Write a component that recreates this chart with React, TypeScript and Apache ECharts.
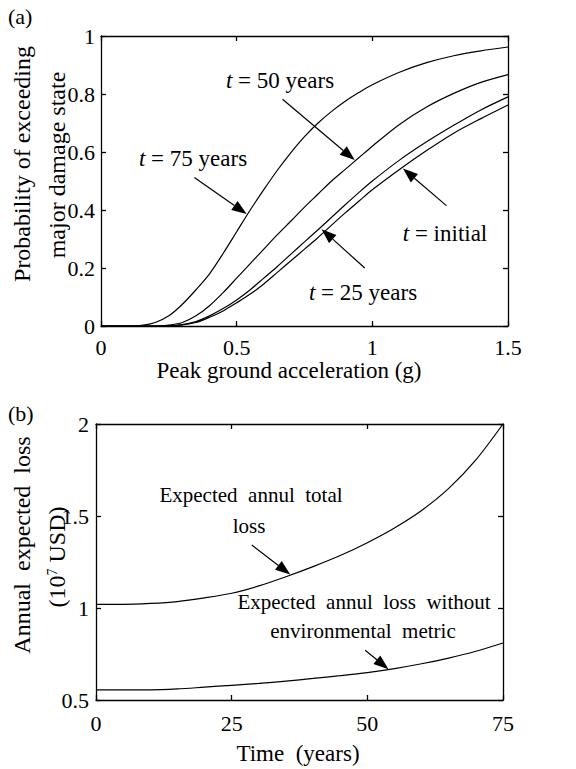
import React, { useEffect, useRef } from "react";
import * as echarts from "echarts";

// ---------- Panel (a): fragility curves ----------
const pga = [0, 0.1, 0.15, 0.2, 0.25, 0.3, 0.35, 0.4, 0.45, 0.5, 0.55, 0.6, 0.65, 0.7, 0.75, 0.8, 0.85, 0.9, 0.95, 1.0, 1.1, 1.2, 1.3, 1.4, 1.5];
const pInitial = [0, 0, 0, 0, 0.001, 0.004, 0.012, 0.03, 0.052, 0.08, 0.11, 0.145, 0.185, 0.225, 0.265, 0.305, 0.348, 0.39, 0.43, 0.47, 0.54, 0.605, 0.665, 0.715, 0.762];
const p25 = [0, 0, 0, 0, 0.001, 0.005, 0.015, 0.035, 0.06, 0.09, 0.125, 0.165, 0.205, 0.248, 0.29, 0.332, 0.375, 0.418, 0.46, 0.5, 0.572, 0.635, 0.692, 0.745, 0.79];
const p50 = [0, 0, 0, 0, 0.003, 0.012, 0.035, 0.07, 0.115, 0.165, 0.215, 0.265, 0.315, 0.362, 0.41, 0.455, 0.5, 0.54, 0.58, 0.62, 0.695, 0.755, 0.802, 0.84, 0.867];
const p75 = [0, 0, 0.002, 0.012, 0.035, 0.075, 0.125, 0.18, 0.25, 0.325, 0.4, 0.47, 0.537, 0.598, 0.653, 0.7, 0.74, 0.775, 0.805, 0.832, 0.875, 0.908, 0.932, 0.949, 0.962];

// arrows: [tailX, tailY, tipX, tipY]
const arrowT75 = [0.344, 0.512, 0.537, 0.386];
const arrowT50 = [0.669, 0.782, 0.935, 0.572];
const arrowT25 = [0.972, 0.2, 0.813, 0.334];
const arrowInitial = [1.273, 0.415, 1.113, 0.543];

// ---------- Panel (b): annual expected loss ----------
const years = [0, 5, 10, 15, 20, 25, 30, 35, 40, 45, 50, 55, 60, 65, 70, 75];
const lossTotal = [1.02, 1.02, 1.025, 1.035, 1.055, 1.08, 1.12, 1.17, 1.225, 1.285, 1.355, 1.435, 1.53, 1.65, 1.805, 2.0];
const lossNoEnv = [0.555, 0.555, 0.555, 0.56, 0.57, 0.58, 0.59, 0.603, 0.617, 0.632, 0.649, 0.671, 0.697, 0.728, 0.765, 0.81];

const arrowTotal = [28.7, 1.342, 35.8, 1.182];
const arrowNoEnv = [49.6, 0.77, 53.9, 0.667];

const FF = "Times New Roman";

const pairs = (xs: number[], ys: number[]) => xs.map((x, i) => [x, ys[i]]);

const arrowEls = (chart: any, arr: number[]) => {
  const a = chart.convertToPixel({ gridIndex: 0 }, [arr[0], arr[1]]);
  const b = chart.convertToPixel({ gridIndex: 0 }, [arr[2], arr[3]]);
  const dx = b[0] - a[0];
  const dy = b[1] - a[1];
  const len = Math.hypot(dx, dy) || 1;
  const ux = dx / len;
  const uy = dy / len;
  const hl = 15;
  const hw = 5.5;
  const bx = b[0] - ux * hl;
  const by = b[1] - uy * hl;
  const px = -uy;
  const py = ux;
  return [
    { type: "line", silent: true, shape: { x1: a[0], y1: a[1], x2: bx, y2: by }, style: { stroke: "#000", lineWidth: 1.2 } },
    {
      type: "polygon",
      silent: true,
      shape: { points: [[b[0], b[1]], [bx + px * hw, by + py * hw], [bx - px * hw, by - py * hw]] },
      style: { fill: "#000" },
    },
  ];
};

const axisLine = () => ({ show: true, onZero: false, lineStyle: { color: "#000", width: 1.3 } });
const axisTick = () => ({ show: true, inside: true, length: 5, lineStyle: { color: "#000", width: 1.3 } });
const tickLabel = (margin: number) => ({ fontFamily: FF, fontSize: 22, color: "#000", margin });

const plain = (x: number, y: number, t: string, size: number, align = "center", rotation = 0) => ({
  type: "text",
  x,
  y,
  rotation,
  style: { text: t, fontFamily: FF, fontSize: size, fill: "#000", align, verticalAlign: "middle" },
});

const tLabel = (x: number, y: number, rest: string) => ({
  type: "text",
  x,
  y,
  style: {
    text: "{i|t}{n|" + rest + "}",
    fontFamily: FF,
    fontSize: 23,
    fill: "#000",
    align: "center",
    verticalAlign: "middle",
    rich: {
      i: { fontFamily: FF, fontSize: 23, fontStyle: "italic" },
      n: { fontFamily: FF, fontSize: 23 },
    },
  },
});

const lineSeries = (data: number[][]) => ({
  type: "line",
  data,
  showSymbol: false,
  symbol: "none",
  smooth: 0.3,
  lineStyle: { color: "#000", width: 1.2 },
});

const ax = (min: number, max: number, interval: number, position: string, margin: number | null) => ({
  type: "value",
  min,
  max,
  interval,
  position,
  axisLine: axisLine(),
  axisTick: axisTick(),
  splitLine: { show: false },
  axisLabel: margin === null ? { show: false } : tickLabel(margin),
});

export default function App() {
  const refA = useRef<HTMLDivElement>(null);
  const refB = useRef<HTMLDivElement>(null);
  useEffect(() => {
    if (!refA.current || !refB.current) return;
    const chartA = echarts.init(refA.current, undefined, { renderer: "svg" });
    chartA.setOption({
      animation: false,
      grid: { left: 101, top: 36, width: 407, height: 290 },
      xAxis: [ax(0, 1.5, 0.5, "bottom", 10), ax(0, 1.5, 0.5, "top", null)],
      yAxis: [ax(0, 1, 0.2, "left", 6), ax(0, 1, 0.2, "right", null)],
      series: [
        lineSeries(pairs(pga, pInitial)),
        lineSeries(pairs(pga, p25)),
        lineSeries(pairs(pga, p50)),
        lineSeries(pairs(pga, p75)),
      ],
    });
    chartA.setOption({
      graphic: [
        plain(8, 16, "(a)", 22, "left"),
        tLabel(280, 80, " = 50 years"),
        tLabel(193, 158, " = 75 years"),
        tLabel(445, 233, " = initial"),
        tLabel(363, 292, " = 25 years"),
        plain(289, 370, "Peak ground acceleration (g)", 23),
        plain(22, 164, "Probability of exceeding", 24, "center", Math.PI / 2),
        plain(57, 165, "major damage state", 24, "center", Math.PI / 2),
        ...arrowEls(chartA, arrowT75),
        ...arrowEls(chartA, arrowT50),
        ...arrowEls(chartA, arrowT25),
        ...arrowEls(chartA, arrowInitial),
      ],
    });

    const chartB = echarts.init(refB.current, undefined, { renderer: "svg" });
    chartB.setOption({
      animation: false,
      grid: { left: 96, top: 36, width: 407, height: 276 },
      xAxis: [ax(0, 75, 25, "bottom", 12), ax(0, 75, 25, "top", null)],
      yAxis: [ax(0.5, 2, 0.5, "left", 7), ax(0.5, 2, 0.5, "right", null)],
      series: [lineSeries(pairs(years, lossTotal)), lineSeries(pairs(years, lossNoEnv))],
    });
    chartB.setOption({
      graphic: [
        plain(8, 25, "(b)", 22, "left"),
        plain(251, 107, "Expected  annul  total", 21),
        plain(249, 138, "loss", 21),
        plain(364, 214, "Expected  annul  loss  without", 21),
        plain(363, 243, "environmental  metric", 21),
        plain(298, 365, "Time  (years)", 23),
        plain(22, 157, "Annual  expected  loss", 24, "center", Math.PI / 2),
        {
          type: "text",
          x: 57,
          y: 169,
          rotation: Math.PI / 2,
          style: {
            text: "{n|(10}{s|7}{n| USD)}",
            fontFamily: FF,
            fontSize: 24,
            fill: "#000",
            align: "center",
            verticalAlign: "middle",
            rich: {
              n: { fontFamily: FF, fontSize: 24 },
              s: { fontFamily: FF, fontSize: 14, verticalAlign: "top" },
            },
          },
        },
        ...arrowEls(chartB, arrowTotal),
        ...arrowEls(chartB, arrowNoEnv),
      ],
    });
    return () => {
      chartA.dispose();
      chartB.dispose();
    };
  }, []);
  return (
    <div style={{ position: "absolute", left: 0, top: 0, width: 576, height: 769, background: "#fff" }}>
      <div ref={refA} style={{ position: "absolute", left: 0, top: 0, width: 576, height: 388 }} />
      <div ref={refB} style={{ position: "absolute", left: 0, top: 388, width: 576, height: 381 }} />
    </div>
  );
}
